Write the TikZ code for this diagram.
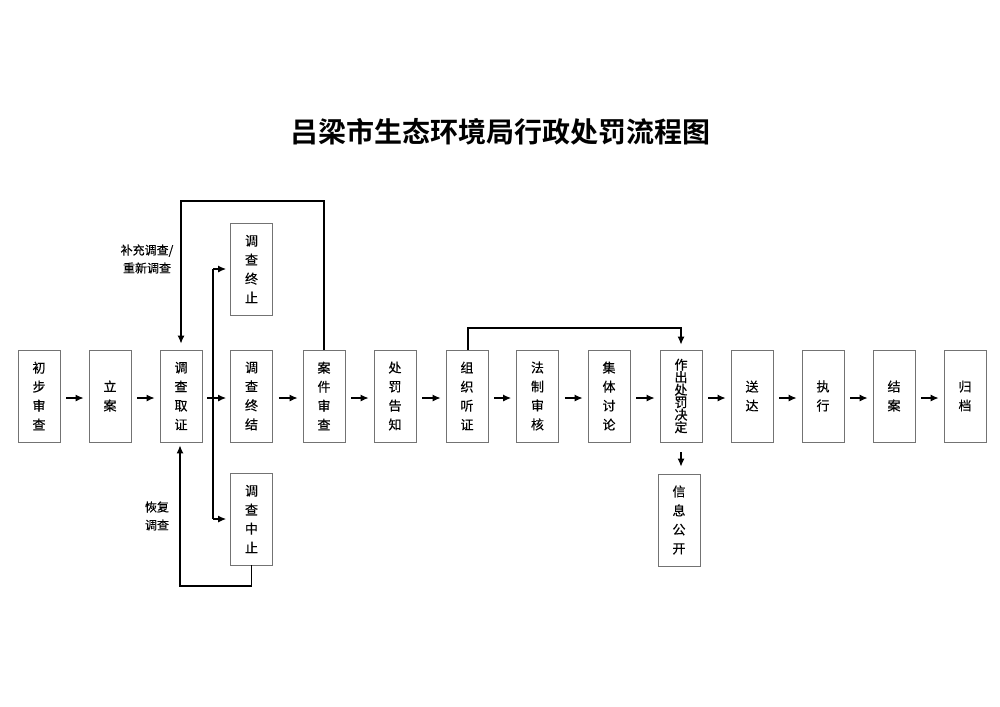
\documentclass[tikz,border=0pt]{standalone}
\usepackage{fontspec}
\newfontfamily\cjk[BoldFont={Noto Sans CJK SC}, BoldFeatures={FakeBold=0.35}]{Noto Sans CJK SC}
\newfontfamily\cjkb{Noto Sans CJK SC Bold}
\usetikzlibrary{arrows.meta}
\tikzset{
  stepbox/.style={draw=black!55, line width=0.9pt, minimum width=42pt, minimum height=92pt, inner sep=0pt, align=center, font=\cjk\bfseries\fontsize{13}{19}\selectfont},
  arr/.style={-{Latex[length=8pt,width=7pt]}, line width=1.1pt, black},
  ln/.style={line width=1.1pt, black},
  lab/.style={font=\cjk\bfseries\fontsize{12}{18}\selectfont, align=center, inner sep=0pt}
}
\begin{document}
\begin{tikzpicture}[x=1pt,y=-1pt]
\useasboundingbox (0,0) rectangle (1000,706);
\node[font=\cjkb\fontsize{28}{30}\selectfont, inner sep=0pt] (title) at (500,132) {吕梁市生态环境局行政处罚流程图};
% main row
\node[stepbox] (b1) at (39,396) {初\\步\\审\\查};
\node[stepbox] (b2) at (110,396) {立\\案};
\node[stepbox] (b3) at (181,396) {调\\查\\取\\证};
\node[stepbox] (b4) at (251.5,396) {调\\查\\终\\结};
\node[stepbox] (b5) at (324,396) {案\\件\\审\\查};
\node[stepbox] (b6) at (395,396) {处\\罚\\告\\知};
\node[stepbox] (b7) at (467,396) {组\\织\\听\\证};
\node[stepbox] (b8) at (537.5,396) {法\\制\\审\\核};
\node[stepbox] (b9) at (609,396) {集\\体\\讨\\论};
\node[stepbox, font=\cjk\bfseries\fontsize{13}{12.5}\selectfont] (b10) at (681,396) {作\\出\\处\\罚\\决\\定};
\node[stepbox] (b11) at (752,396) {送\\达};
\node[stepbox] (b12) at (823,396) {执\\行};
\node[stepbox] (b13) at (894,396) {结\\案};
\node[stepbox] (b14) at (965,396) {归\\档};
% side boxes
\node[stepbox] (zz) at (251.5,269) {调\\查\\终\\止};
\node[stepbox] (zhz) at (251.5,519) {调\\查\\中\\止};
\node[stepbox] (xx) at (679,520) {信\\息\\公\\开};
% labels
\node[lab] (l1) at (147,259) {补充调查/\\重新调查};
\node[lab] (l2) at (157,516) {恢复\\调查};
% main arrows
\foreach \a/\b in {b1/b2,b2/b3,b4/b5,b5/b6,b6/b7,b7/b8,b8/b9,b9/b10,b10/b11,b11/b12,b12/b13,b13/b14}
  \draw[arr, shorten <=6pt, shorten >=5pt] ([yshift=-2pt]\a.east) -- ([yshift=-2pt]\b.west);
\draw[arr, shorten <=5pt, shorten >=4pt] ([yshift=-2pt]b3.east) -- ([yshift=-2pt]b4.west);
% branch
\coordinate (bj) at (213,398);
\draw[ln] (bj |- zz.west) -- (bj |- zhz.west);
\draw[arr, shorten >=4pt] (bj |- zz.west) -- (zz.west);
\draw[arr, shorten >=4pt] (bj |- zhz.west) -- (zhz.west);
% top loop
\coordinate (tp) at (0,201);
\draw[arr, shorten >=6pt] (b5.north) -- (b5.north |- tp) -| (b3.north);
% bottom loop
\coordinate (bt) at (0,586);
\draw[arr, shorten >=3pt] (zhz.south) -- (zhz.south |- bt) -| ([xshift=-1pt]b3.south);
% hearing loop
\coordinate (hp) at (0,328);
\draw[arr, shorten >=5pt] ([xshift=1pt]b7.north) -- ([xshift=1pt]b7.north |- hp) -| (b10.north);
% info arrow
\draw[arr, shorten <=10pt, shorten >=7pt] (b10.south) -- (b10.south |- xx.north);
\end{tikzpicture}
\end{document}
